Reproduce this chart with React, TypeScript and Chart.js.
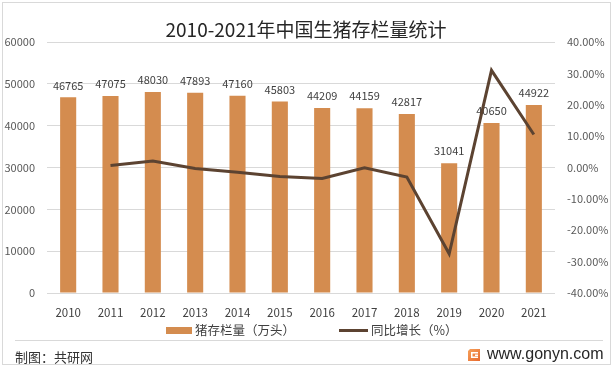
import React, { useEffect, useRef } from 'react';
import { Chart, registerables } from 'chart.js';

Chart.register(...registerables);

const years = ['2010', '2011', '2012', '2013', '2014', '2015', '2016', '2017', '2018', '2019', '2020', '2021'];
const stock = [46765, 47075, 48030, 47893, 47160, 45803, 44209, 44159, 42817, 31041, 40650, 44922];
const growth = [null, 0.66, 2.03, -0.29, -1.53, -2.88, -3.48, -0.11, -3.04, -27.5, 30.96, 10.51];
const leftAxis = { min: 0, max: 60000, step: 10000 };
const rightAxis = { min: -40, max: 40, step: 10 };
const titleText = '2010-2021年中国生猪存栏量统计';
const legendBar = '猪存栏量（万头）';
const legendLine = '同比增长（%）';
const sourceText = '制图：共研网';
const siteText = 'www.gonyn.com';

const BAR_COLOR = '#D48C4F';
const LINE_COLOR = '#5C4331';
const GRID = '#D9D9D9';
const CJK = '"Noto Sans CJK SC", "Noto Sans", sans-serif';

const decorPlugin = {
  id: 'decor',
  beforeDraw(chart: any) {
    const ctx = chart.ctx;
    ctx.save();
    ctx.fillStyle = '#ffffff';
    ctx.fillRect(0, 0, chart.width, chart.height);
    ctx.restore();
  },
  afterDatasetDraw(chart: any, args: any) {
    if (args.index !== 0) return;
    const ctx = chart.ctx;
    const meta = chart.getDatasetMeta(0);
    ctx.save();
    ctx.font = `11px ${CJK}`;
    ctx.fillStyle = '#404040';
    ctx.textAlign = 'center';
    ctx.textBaseline = 'middle';
    meta.data.forEach((el: any, i: number) => {
      ctx.fillText(String(stock[i]), el.x, el.y - 12);
    });
    ctx.restore();
  },
  afterDraw(chart: any) {
    const ctx = chart.ctx;
    ctx.save();
    // outer border
    ctx.strokeStyle = GRID;
    ctx.lineWidth = 1;
    ctx.strokeRect(2.5, 2.5, 608, 362);
    // title
    ctx.fillStyle = '#262626';
    ctx.font = `19px ${CJK}`;
    ctx.textAlign = 'center';
    ctx.textBaseline = 'middle';
    ctx.fillText(titleText, 306, 30);
    // legend
    ctx.fillStyle = BAR_COLOR;
    ctx.fillRect(166, 327, 26, 7);
    ctx.fillStyle = '#404040';
    ctx.font = `12.5px ${CJK}`;
    ctx.textAlign = 'left';
    ctx.fillText(legendBar, 195, 330);
    ctx.strokeStyle = LINE_COLOR;
    ctx.lineWidth = 3;
    ctx.beginPath();
    ctx.moveTo(339, 330.5);
    ctx.lineTo(368, 330.5);
    ctx.stroke();
    ctx.fillText(legendLine, 371, 330);
    // separator
    ctx.strokeStyle = GRID;
    ctx.lineWidth = 1;
    ctx.beginPath();
    ctx.moveTo(15, 340.5);
    ctx.lineTo(603, 340.5);
    ctx.stroke();
    // source
    ctx.fillStyle = '#333333';
    ctx.font = `13px ${CJK}`;
    ctx.fillText(sourceText, 15, 357);
    // logo
    const g = ctx.createLinearGradient(468, 349, 480, 361);
    g.addColorStop(0, '#F6A25B');
    g.addColorStop(1, '#E8692E');
    ctx.fillStyle = g;
    ctx.beginPath();
    ctx.moveTo(470, 349);
    ctx.lineTo(480, 349);
    ctx.lineTo(480, 361);
    ctx.lineTo(468, 361);
    ctx.lineTo(468, 351);
    ctx.closePath();
    ctx.fill();
    ctx.fillStyle = '#ffffff';
    ctx.fillRect(471, 352, 7, 1.5);
    ctx.fillRect(471, 352, 1.5, 6);
    ctx.fillRect(471, 356.5, 7, 1.5);
    ctx.fillRect(475, 354.5, 3, 1.5);
    // site
    ctx.fillStyle = '#262626';
    ctx.font = '16px "Liberation Sans", Arial, sans-serif';
    ctx.fillText(siteText, 487, 355);
    ctx.restore();
  },
};

export default function App() {
  const ref = useRef<HTMLCanvasElement | null>(null);
  useEffect(() => {
    if (!ref.current) return;
    const chart = new Chart(ref.current, {
      type: 'bar',
      data: {
        labels: years,
        datasets: [
          {
            type: 'bar',
            label: legendBar,
            data: stock,
            backgroundColor: BAR_COLOR,
            barPercentage: 0.38,
            categoryPercentage: 1,
            yAxisID: 'y',
            order: 1,
          },
          {
            type: 'line',
            label: legendLine,
            data: growth,
            borderColor: LINE_COLOR,
            backgroundColor: LINE_COLOR,
            borderWidth: 3,
            pointRadius: 0,
            tension: 0,
            yAxisID: 'y1',
            order: 0,
          } as any,
        ],
      },
      options: {
        responsive: false,
        animation: false,
        devicePixelRatio: 1,
        layout: { padding: { top: 42, bottom: 45, left: 0, right: 0 } },
        plugins: {
          legend: { display: false },
          title: { display: false },
          tooltip: { enabled: false },
        },
        scales: {
          x: {
            grid: { display: false, drawTicks: false },
            border: { display: false },
            ticks: { color: '#404040', font: { family: CJK, size: 11.5 }, padding: 13, maxRotation: 0 },
            afterFit: (s: any) => { s.height = 30; },
          },
          y: {
            position: 'left',
            min: leftAxis.min,
            max: leftAxis.max,
            grid: { color: GRID, drawTicks: false },
            border: { display: false },
            ticks: {
              stepSize: leftAxis.step,
              color: '#595959',
              font: { family: CJK, size: 11 },
              padding: 12,
              callback: (v: any) => String(v),
            },
            afterFit: (s: any) => { s.width = 47; },
          },
          y1: {
            position: 'right',
            min: rightAxis.min,
            max: rightAxis.max,
            grid: { display: false, drawTicks: false },
            border: { display: false },
            ticks: {
              stepSize: rightAxis.step,
              color: '#595959',
              font: { family: CJK, size: 11 },
              padding: 12,
              callback: (v: any) => Number(v).toFixed(2) + '%',
            },
            afterFit: (s: any) => { s.width = 59; },
          },
        },
      },
      plugins: [decorPlugin],
    });
    return () => chart.destroy();
  }, []);
  return (
    <div style={{ position: 'absolute', left: 0, top: 0, width: 614, height: 368 }}>
      <canvas ref={ref} width={614} height={368} style={{ display: 'block', width: 614, height: 368 }} />
    </div>
  );
}
